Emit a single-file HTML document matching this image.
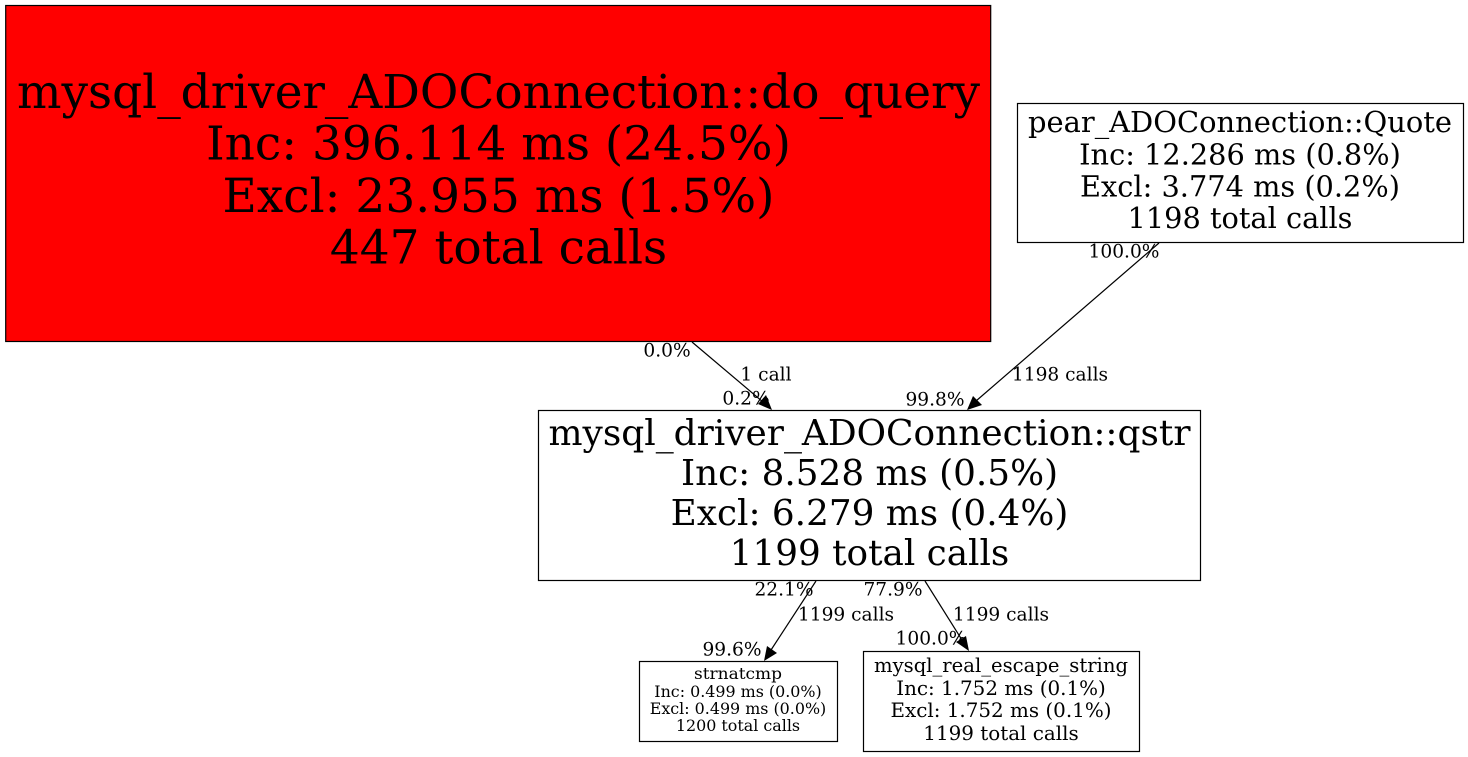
<!DOCTYPE html>
<html>
<head>
<meta charset="utf-8">
<style>
html,body{margin:0;padding:0;background:#fff;width:1468px;height:757px;overflow:hidden}
svg{display:block}
text{font-family:"DejaVu Serif",serif;fill:#000;text-anchor:middle}
.a{font-size:47px}
.b{font-size:35.8px}
.c{font-size:28.8px}
.d{font-size:19.9px}
.e{font-size:15.9px}
.l{font-size:18.6px}
rect{stroke-width:1.2}
line{stroke-width:1.2}
</style>
</head>
<body>
<svg width="1468" height="757" viewBox="0 0 1468 757" xmlns="http://www.w3.org/2000/svg">
<rect x="5.7" y="5.5" width="985" height="336" fill="#ff0000" stroke="#000"/>
<text class="a" x="498.5" y="108" textLength="963" lengthAdjust="spacingAndGlyphs">mysql_driver_ADOConnection::do_query</text>
<text class="a" x="498.5" y="159.5">Inc: 396.114 ms (24.5%)</text>
<text class="a" x="498.5" y="212">Excl: 23.955 ms (1.5%)</text>
<text class="a" x="498.5" y="263.5">447 total calls</text>

<rect x="1017.5" y="103.5" width="446" height="139" fill="#fff" stroke="#000"/>
<text class="c" x="1240" y="132" textLength="424" lengthAdjust="spacingAndGlyphs">pear_ADOConnection::Quote</text>
<text class="c" x="1240" y="164.5">Inc: 12.286 ms (0.8%)</text>
<text class="c" x="1240" y="196.5">Excl: 3.774 ms (0.2%)</text>
<text class="c" x="1240" y="228">1198 total calls</text>

<rect x="538.5" y="410.5" width="662" height="170" fill="#fff" stroke="#000"/>
<text class="b" x="869.5" y="445" textLength="642" lengthAdjust="spacingAndGlyphs">mysql_driver_ADOConnection::qstr</text>
<text class="b" x="869.5" y="485">Inc: 8.528 ms (0.5%)</text>
<text class="b" x="869.5" y="525">Excl: 6.279 ms (0.4%)</text>
<text class="b" x="869.5" y="565">1199 total calls</text>

<rect x="639.5" y="661.5" width="198" height="80" fill="#fff" stroke="#000"/>
<text class="e" x="738" y="679" textLength="88" lengthAdjust="spacingAndGlyphs">strnatcmp</text>
<text class="e" x="738" y="697">Inc: 0.499 ms (0.0%)</text>
<text class="e" x="738" y="714">Excl: 0.499 ms (0.0%)</text>
<text class="e" x="738" y="731">1200 total calls</text>

<rect x="863.5" y="651.5" width="276" height="100" fill="#fff" stroke="#000"/>
<text class="d" x="1001" y="672" textLength="254" lengthAdjust="spacingAndGlyphs">mysql_real_escape_string</text>
<text class="d" x="1001" y="695">Inc: 1.752 ms (0.1%)</text>
<text class="d" x="1001" y="717">Excl: 1.752 ms (0.1%)</text>
<text class="d" x="1001" y="740">1199 total calls</text>

<g stroke="#000" fill="none">
<line x1="692" y1="342" x2="763" y2="402"/>
<line x1="1159" y1="243" x2="976" y2="401"/>
<line x1="816" y1="581" x2="771" y2="650"/>
<line x1="925" y1="581" x2="962" y2="640"/>
</g>
<g fill="#000">
<polygon points="772,410 758,404 766,395"/>
<polygon points="967,410 973,396 982,405"/>
<polygon points="764,661 767,646 777,653"/>
<polygon points="969,651 956,642 966,636"/>
</g>

<text class="l" x="667" y="356.7">0.0%</text>
<text class="l" x="766" y="380.7">1 call</text>
<text class="l" x="746" y="404.7">0.2%</text>
<text class="l" x="1124" y="257.7">100.0%</text>
<text class="l" x="1060" y="380.7">1198 calls</text>
<text class="l" x="935" y="405.7">99.8%</text>
<text class="l" x="784" y="595.7">22.1%</text>
<text class="l" x="846" y="620.7">1199 calls</text>
<text class="l" x="732" y="655.7">99.6%</text>
<text class="l" x="893" y="595.7">77.9%</text>
<text class="l" x="1001" y="620.7">1199 calls</text>
<text class="l" x="931" y="644.7">100.0%</text>
</svg>
</body>
</html>
